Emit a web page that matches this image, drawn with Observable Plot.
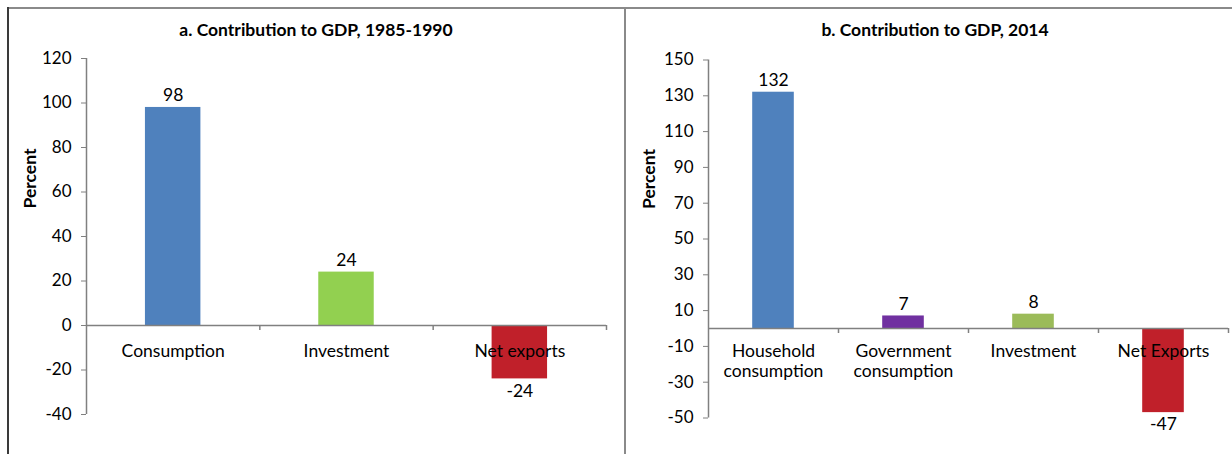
<!DOCTYPE html>
<html><head><meta charset="utf-8">
<script src="https://cdn.jsdelivr.net/npm/d3@7"></script>
<script src="https://cdn.jsdelivr.net/npm/@observablehq/plot@0.6"></script>
<style>
body{margin:0;background:#fff;font-family:Lato,"Noto Sans",sans-serif;}
#page{position:relative;width:1232px;height:454px;overflow:hidden;background:#fff;}
.chart{position:absolute;top:0;}
.title{position:absolute;top:19px;font-weight:bold;font-size:17.5px;text-align:center;color:#000;white-space:nowrap;}
.line{position:absolute;}
</style></head><body><div id="page"></div>
<script>
// Panel a
const categoriesA = ["Consumption", "Investment", "Net exports"];
const valuesA = [98, 24, -24];
const colorsA = ["#4F81BD", "#92D050", "#C0202A"];
const ticksA = [-40, -20, 0, 20, 40, 60, 80, 100, 120];
const titleA = "a. Contribution to GDP, 1985-1990";
// Panel b
const categoriesB = ["Household\nconsumption", "Government\nconsumption", "Investment", "Net Exports"];
const valuesB = [132, 7, 8, -47];
const colorsB = ["#4F81BD", "#7030A0", "#9BBB59", "#C0202A"];
const ticksB = [-50, -30, -10, 10, 30, 50, 70, 90, 110, 130, 150];
const titleB = "b. Contribution to GDP, 2014";
const yLabel = "Percent";

const AXIS = "#808080";

function makeChart(o) {
  const n = o.cats.length;
  const data = o.cats.map((c, i) => ({cat: c, i, v: o.vals[i]}));
  const half = 0.16;
  return Plot.plot({
    width: o.width, height: o.height,
    marginLeft: o.ml, marginRight: o.mr, marginTop: o.mt, marginBottom: o.mb,
    style: {fontFamily: "Lato, 'Noto Sans', sans-serif", fontSize: "17px", background: "transparent", overflow: "visible", color: "#000"},
    x: {domain: [0, n], axis: null},
    y: {domain: [d3.min(o.ticks), d3.max(o.ticks)], axis: null},
    color: {domain: o.cats, range: o.colors},
    marks: [
      Plot.rectY(data, {x1: d => d.i + 0.5 - half, x2: d => d.i + 0.5 + half, y1: () => 0, y2: "v", fill: "cat"}),
      Plot.ruleY([0], {stroke: AXIS, strokeWidth: 1.5}),
      Plot.ruleX([0], {stroke: AXIS, strokeWidth: 1.5}),
      Plot.ruleX(d3.range(1, n + 1), {x: d => d, y1: () => 0, y2: () => 0, insetTop: 5, stroke: AXIS, strokeWidth: 1.5}),
      Plot.axisY({ticks: o.ticks, tickSize: 5, tickPadding: 10, stroke: AXIS, fill: "#000", label: null, fontSize: 17, tickFormat: d => String(d)}),
      Plot.text(data, {filter: d => d.v >= 0, x: d => d.i + 0.5, y: "v", text: d => String(d.v), dy: -12, fontSize: 17.5, fill: "#000"}),
      Plot.text(data, {filter: d => d.v < 0, x: d => d.i + 0.5, y: "v", text: d => String(d.v), dy: 12, fontSize: 17.5, fill: "#000"}),
      Plot.text(data, {x: d => d.i + 0.5, y: () => 0, text: "cat", lineAnchor: "top", dy: o.catDy, lineHeight: 1.15, fontSize: 17.5, fill: "#000"}),
      Plot.text([yLabel], {frameAnchor: "left", text: d => d, rotate: -90, dx: o.labDx, dy: o.labDy, fontWeight: "bold", fontSize: 17.5, fill: "#000"})
    ]
  });
}

const page = document.getElementById("page");
function place(el, left) { el.classList.add("chart"); el.style.left = left + "px"; page.appendChild(el); }

const a = makeChart({cats: categoriesA, vals: valuesA, colors: colorsA, ticks: ticksA,
  width: 617, height: 454, ml: 78, mr: 19, mt: 58, mb: 40, catDy: 17, labDx: -56, labDy: -28});
place(a, 8);
const b = makeChart({cats: categoriesB, vals: valuesB, colors: colorsB, ticks: ticksB,
  width: 607, height: 454, ml: 83, mr: 4, mt: 59.5, mb: 36.5, catDy: 14, labDx: -59, labDy: -30});
place(b, 625);

function line(css) { const d = document.createElement("div"); d.className = "line"; Object.assign(d.style, css); page.appendChild(d); }
line({left: "8px", top: "7px", width: "1224px", height: "0", borderTop: "2px solid #8a8a8a"});
line({left: "7px", top: "7px", width: "0", height: "447px", borderLeft: "2px solid #3a3a3a"});
line({left: "624px", top: "7px", width: "0", height: "447px", borderLeft: "2px solid #8a8a8a"});

function title(text, center) { const d = document.createElement("div"); d.className = "title"; d.textContent = text; d.style.left = (center - 300) + "px"; d.style.width = "600px"; page.appendChild(d); }
title(titleA, 316);
title(titleB, 935);
</script>
</body></html>
